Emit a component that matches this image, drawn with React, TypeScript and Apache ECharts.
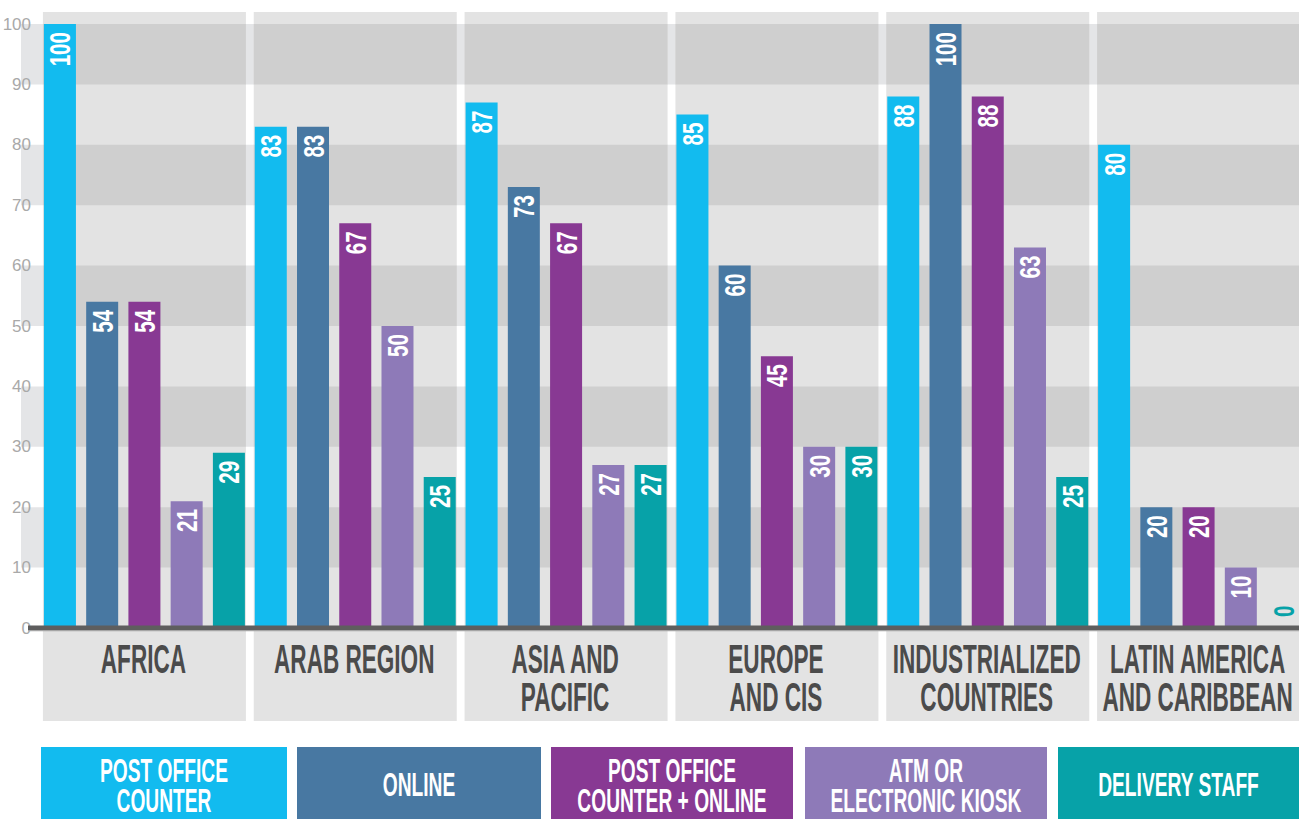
import React, { useEffect, useRef } from 'react';
import * as echarts from 'echarts';

const categories = ['AFRICA', 'ARAB REGION', 'ASIA AND\nPACIFIC', 'EUROPE\nAND CIS', 'INDUSTRIALIZED\nCOUNTRIES', 'LATIN AMERICA\nAND CARIBBEAN'];
const seriesNames = ['POST OFFICE\nCOUNTER', 'ONLINE', 'POST OFFICE\nCOUNTER + ONLINE', 'ATM OR\nELECTRONIC KIOSK', 'DELIVERY STAFF'];
const seriesColors = ['#12bbef', '#4878a2', '#883993', '#8e7ab8', '#07a2a8'];
const postOfficeCounter = [100, 83, 87, 85, 88, 80];
const online = [54, 83, 73, 60, 100, 20];
const postOfficeCounterOnline = [54, 67, 67, 45, 88, 20];
const atmOrKiosk = [21, 50, 27, 30, 63, 10];
const deliveryStaff = [29, 25, 27, 30, 25, 0];
const seriesValues = [postOfficeCounter, online, postOfficeCounterOnline, atmOrKiosk, deliveryStaff];
const yMin = 0;
const yMax = 100;
const yInterval = 10;

const FONT = "'Liberation Sans Narrow', 'Liberation Sans', Arial, sans-serif";

export default function App() {
  const ref = useRef<HTMLDivElement>(null);

  useEffect(() => {
    if (!ref.current) return;
    const chart = echarts.init(ref.current, undefined, { renderer: 'svg' });
    chart.setOption({
      animation: false,
      grid: { left: 39, right: -5, top: 24, bottom: 191, containLabel: false, outerBoundsMode: 'none' },
      xAxis: {
        type: 'category',
        data: categories,
        axisLine: { show: false },
        axisTick: { show: false },
        axisLabel: { show: false },
        splitLine: { show: false },
      },
      yAxis: {
        type: 'value',
        min: yMin,
        max: yMax,
        interval: yInterval,
        axisLine: { show: false },
        axisTick: { show: false },
        splitLine: { show: false },
        axisLabel: { color: '#a9a9a9', fontSize: 17, fontFamily: FONT, margin: 8 },
      },
      series: seriesValues.map((vals, j) => ({
        type: 'bar',
        name: seriesNames[j].replace('\n', ' '),
        data: vals,
        barWidth: 32,
        barGap: '32%',
        itemStyle: { color: seriesColors[j] },
        z: 2,
      })),
    });

    const ctx = document.createElement('canvas').getContext('2d')!;
    const measure = (t: string, size: number) => {
      ctx.font = `bold ${size}px ${FONT}`;
      return ctx.measureText(t).width;
    };

    const yPix = (v: number) => chart.convertToPixel({ yAxisIndex: 0 }, v) as number;
    const xPix = (i: number) => chart.convertToPixel({ xAxisIndex: 0 }, i) as number;
    const base = yPix(0);
    const top100 = yPix(100);
    const W = 1299;
    const colHalf = 101.5;

    const els: any[] = [];
    // dark band strips (outside columns, lighter)
    for (let v = 10; v < 100; v += 20) {
      els.push({ type: 'rect', z: 0, shape: { x: 21, y: yPix(v + 10), width: W - 21, height: yPix(v) - yPix(v + 10) }, style: { fill: '#e4e5e7' } });
    }
    // columns
    categories.forEach((_, i) => {
      const cx = xPix(i);
      const x0 = Math.max(41, cx - colHalf);
      const x1 = Math.min(W, cx + colHalf);
      els.push({ type: 'rect', z: 0, shape: { x: x0, y: top100 - 12, width: x1 - x0, height: base + 93 - (top100 - 12) }, style: { fill: '#e3e3e3' } });
      for (let v = 10; v < 100; v += 20) {
        els.push({ type: 'rect', z: 0, shape: { x: x0, y: yPix(v + 10), width: x1 - x0, height: yPix(v) - yPix(v + 10) }, style: { fill: '#cfcfcf' } });
      }
    });
    // baseline
    els.push({ type: 'rect', z: 5, shape: { x: 28, y: base - 2.5, width: W - 28, height: 4.5 }, style: { fill: '#5e5e5e' } });
    els.push({ type: 'rect', z: 5, shape: { x: 28, y: base + 2, width: W - 28, height: 1.3 }, style: { fill: '#a5a5a5' } });

    // category labels
    const catScale = (183.7 + 179 + 86.7) / (measure('INDUSTRIALIZED', 40.5) + measure('LATIN AMERICA', 40.5) + measure('AFRICA', 40.5));
    categories.forEach((c, i) => {
      const cx = xPix(i);
      c.split('\n').forEach((line, k) => {
        els.push({
          type: 'text', z: 10, x: cx - 1, y: base + 31 + k * 37.5, scaleX: catScale,
          style: { text: line, fill: '#4b4b4b', font: `bold 40.5px ${FONT}`, align: 'center', verticalAlign: 'middle' },
        });
      });
    });

    // value labels
    const valScale = (22.3 + 35) / (measure('83', 30) + measure('100', 30));
    const model = (chart as any).getModel();
    seriesValues.forEach((vals, j) => {
      const data = model.getSeriesByIndex(j).getData();
      vals.forEach((v, i) => {
        const lay = data.getItemLayout(i);
        const cx = lay.x + lay.width / 2;
        const topY = Math.min(lay.y, lay.y + lay.height);
        if (v > 0) {
          els.push({
            type: 'text', z: 10, x: cx, y: topY + 8, rotation: Math.PI / 2, scaleX: valScale,
            style: { text: String(v), fill: '#ffffff', font: `bold 30px ${FONT}`, align: 'right', verticalAlign: 'middle' },
          });
        } else {
          els.push({
            type: 'text', z: 10, x: cx, y: topY - 11, rotation: Math.PI / 2, scaleX: valScale,
            style: { text: String(v), fill: seriesColors[j], font: `bold 30px ${FONT}`, align: 'left', verticalAlign: 'middle' },
          });
        }
      });
    });

    // legend boxes
    const legScale = (74 + 126.6) / (measure('ONLINE', 33) + measure('POST OFFICE', 33));
    const legX = [41, 297, 551, 805, 1058];
    const legW = [246, 244, 242, 242, 241];
    seriesNames.forEach((n, j) => {
      els.push({ type: 'rect', z: 10, shape: { x: legX[j], y: 747, width: legW[j], height: 80 }, style: { fill: seriesColors[j] } });
      const lines = n.split('\n');
      const cx = legX[j] + legW[j] / 2;
      lines.forEach((line, k) => {
        const y = lines.length === 1 ? 785.3 : 771 + k * 29.5;
        els.push({
          type: 'text', z: 11, x: cx, y, scaleX: legScale,
          style: { text: line, fill: '#ffffff', font: `bold 33px ${FONT}`, align: 'center', verticalAlign: 'middle' },
        });
      });
    });

    chart.setOption({ graphic: els });

    return () => chart.dispose();
  }, []);

  return (
    <div
      ref={ref}
      style={{ position: 'fixed', left: 0, top: 0, width: 1299, height: 819, background: '#ffffff' }}
    />
  );
}
